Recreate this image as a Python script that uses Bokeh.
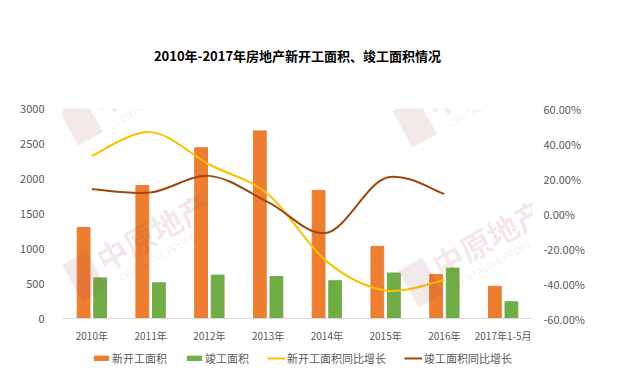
from bokeh.plotting import figure
from bokeh.layouts import column
from bokeh.models import (Range1d, LinearAxis, FixedTicker, NumeralTickFormatter,
                          Legend, LegendItem, Label)
from bokeh.embed import file_html
from bokeh.resources import INLINE

# ---------------- data ----------------
categories = ["2010年", "2011年", "2012年", "2013年", "2014年", "2015年", "2016年", "2017年1-5月"]
new_start_area = [1300, 1900, 2440, 2680, 1830, 1030, 630, 460]
completed_area = [580, 510, 620, 600, 540, 650, 720, 240]
new_start_yoy = [0.33, 0.465, 0.28, 0.11, -0.275, -0.44, -0.38]
completed_yoy = [0.14, 0.12, 0.215, 0.065, -0.11, 0.203, 0.112]
left_ticks = [0, 500, 1000, 1500, 2000, 2500, 3000]
right_ticks = [-0.6, -0.4, -0.2, 0.0, 0.2, 0.4, 0.6]
series_names = ["新开工面积", "竣工面积", "新开工面积同比增长", "竣工面积同比增长"]
title_text = "2010年-2017年房地产新开工面积、竣工面积情况"
watermark_main = "中原地产"
watermark_sub = "CENTALINE PROPERTY"

ORANGE = "#ED7D31"
GREEN = "#70AD47"
YELLOW = "#FFC000"
BROWN = "#9E480E"
GREY = "#595959"
FONT = "Noto Sans CJK SC"

W = 627
p = figure(width=W, height=345, output_backend="svg", toolbar_location=None,
           x_range=Range1d(-0.5, len(categories) - 0.5), y_range=Range1d(0, 3000),
           min_border_left=62, min_border_right=95, min_border_top=108, min_border_bottom=26)
p.outline_line_color = None
p.xgrid.visible = False
p.ygrid.visible = False
p.background_fill_color = "white"
p.border_fill_color = "white"

p.title.text = title_text
p.title.align = "center"
p.title.vertical_align = "middle"
p.title.text_font = FONT
p.title.text_font_size = "13px"
p.title.text_font_style = "bold"
p.title.text_color = "#000000"
p.title.standoff = 85

p.extra_y_ranges = {"pct": Range1d(-0.6, 0.6)}

# axes
xs = list(range(len(categories)))
p.xaxis.ticker = FixedTicker(ticks=xs)
p.xaxis.major_label_overrides = {i: c for i, c in enumerate(categories)}
p.xaxis.axis_line_color = "#D9D9D9"
p.xaxis.major_tick_line_color = None
p.xaxis.minor_tick_line_color = None
p.xaxis.major_label_text_font = FONT
p.xaxis.major_label_text_font_size = "10px"
p.xaxis.major_label_text_color = GREY
p.xaxis.major_label_standoff = 3

p.yaxis.ticker = FixedTicker(ticks=left_ticks)
p.yaxis.axis_line_color = None
p.yaxis.major_tick_line_color = None
p.yaxis.minor_tick_line_color = None
p.yaxis.major_label_text_font = FONT
p.yaxis.major_label_text_font_size = "11px"
p.yaxis.major_label_text_color = GREY
p.yaxis.major_label_standoff = 12

raxis = LinearAxis(y_range_name="pct", ticker=FixedTicker(ticks=right_ticks),
                   formatter=NumeralTickFormatter(format="0.00%"))
raxis.axis_line_color = None
raxis.major_tick_line_color = None
raxis.minor_tick_line_color = None
raxis.major_label_text_font = FONT
raxis.major_label_text_font_size = "11px"
raxis.major_label_text_color = GREY
raxis.major_label_standoff = 5
p.add_layout(raxis, "right")

# bars
off = 0.141
bw = 0.218
p.vbar(x=[i - off for i in xs], top=new_start_area, width=bw, color=ORANGE)
p.vbar(x=[i + off for i in xs], top=completed_area, width=bw, color=GREEN)


# smoothed lines (bezier segments with control points from neighbouring data points)
def smooth(xv, yv, color):
    n = len(xv)
    x0, y0, x1, y1, cx0, cy0, cx1, cy1 = [], [], [], [], [], [], [], []
    for i in range(n - 1):
        pxm, pym = (xv[i - 1], yv[i - 1]) if i > 0 else (xv[i], yv[i])
        pxp, pyp = (xv[i + 2], yv[i + 2]) if i + 2 < n else (xv[i + 1], yv[i + 1])
        x0.append(xv[i]); y0.append(yv[i]); x1.append(xv[i + 1]); y1.append(yv[i + 1])
        cx0.append(xv[i] + (xv[i + 1] - pxm) / 6); cy0.append(yv[i] + (yv[i + 1] - pym) / 6)
        cx1.append(xv[i + 1] - (pxp - xv[i]) / 6); cy1.append(yv[i + 1] - (pyp - yv[i]) / 6)
    return p.bezier(x0=x0, y0=y0, x1=x1, y1=y1, cx0=cx0, cy0=cy0, cx1=cx1, cy1=cy1,
                    line_color=color, line_width=2, y_range_name="pct")


smooth(xs[:len(new_start_yoy)], new_start_yoy, YELLOW)
smooth(xs[:len(completed_yoy)], completed_yoy, BROWN)

# faint watermark
px_per_x = 470 / len(categories)
px_per_y = 211 / 3000


def to_data(sx, sy):
    return (sx - 62) / px_per_x - 0.5, (319 - sy) / px_per_y


wm_color = "#A04848"
ang = 29
for cx, cy in [(148, 74), (482, 76), (152, 231), (488, 237)]:
    dx, dy = to_data(cx, cy)
    p.add_layout(Label(x=dx, y=dy, text=watermark_main, angle=ang, angle_units="deg",
                       text_align="center", text_baseline="middle", text_font=FONT,
                       text_font_size="31px", text_font_style="bold",
                       text_color=wm_color, text_alpha=0.13))
    sx2, sy2 = to_data(cx + 12, cy + 22)
    p.add_layout(Label(x=sx2, y=sy2, text=watermark_sub, angle=ang, angle_units="deg",
                       text_align="center", text_baseline="middle", text_font=FONT,
                       text_font_size="10px", text_color=wm_color, text_alpha=0.11))
    lx, ly = to_data(cx - 68, cy + 46)
    p.rect(x=[lx], y=[ly], width=28, height=42, width_units="screen", height_units="screen",
           angle=ang, angle_units="deg", fill_color=wm_color, fill_alpha=0.12, line_color=None)

# legend strip (separate small figure, proxies placed outside its visible range)
lg = figure(width=W, height=25, output_backend="svg", toolbar_location=None,
            x_range=Range1d(0, 1), y_range=Range1d(0, 1),
            min_border_left=0, min_border_right=0, min_border_top=0, min_border_bottom=0)
lg.axis.visible = False
lg.grid.visible = False
lg.outline_line_color = None
lg.background_fill_color = "white"
lg.border_fill_color = "white"
g1 = lg.vbar(x=[-5], top=[-5], width=0.1, color=ORANGE)
g2 = lg.vbar(x=[-5], top=[-5], width=0.1, color=GREEN)
g3 = lg.line(x=[-5, -4], y=[-5, -5], line_color=YELLOW, line_width=2)
g4 = lg.line(x=[-5, -4], y=[-5, -5], line_color=BROWN, line_width=2)
legend = Legend(items=[LegendItem(label=series_names[0], renderers=[g1]),
                       LegendItem(label=series_names[1], renderers=[g2]),
                       LegendItem(label=series_names[2], renderers=[g3]),
                       LegendItem(label=series_names[3], renderers=[g4])],
                orientation="horizontal", location=(30, 4),
                border_line_color=None, background_fill_alpha=0,
                label_text_font=FONT, label_text_font_size="11px", label_text_color=GREY,
                glyph_width=18, glyph_height=6, label_standoff=2, spacing=18,
                padding=0, margin=0, label_height=12)
lg.add_layout(legend, "center")

layout = column(p, lg, spacing=0)
open("out.html", "w").write(file_html(layout, INLINE))
